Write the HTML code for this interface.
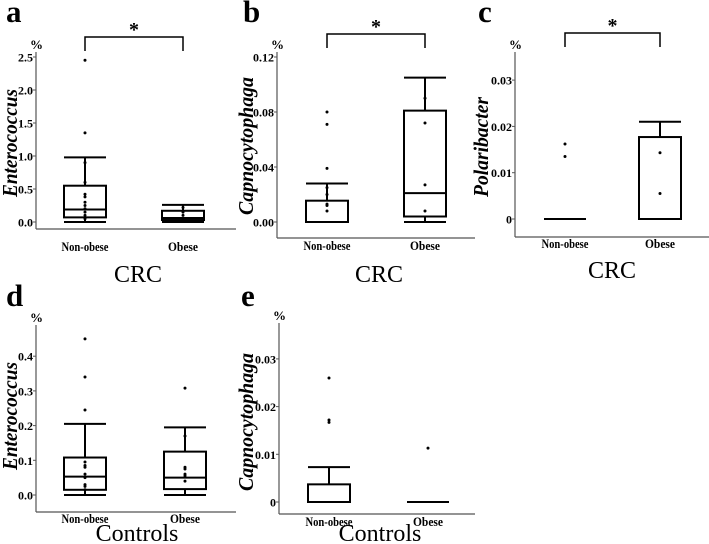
<!DOCTYPE html>
<html><head><meta charset="utf-8"><style>
html,body{margin:0;padding:0;background:#fff;}
svg{display:block;font-family:"Liberation Serif",serif;}
</style></head><body>
<svg id="fig" width="709" height="544" viewBox="0 0 709 544" xmlns="http://www.w3.org/2000/svg"></svg>
<script>
// ---- data (values in %) ----
const groups = ["Non-obese", "Obese"];
// panel a: CRC Enterococcus
const aStats = [[0, 0.07, 0.19, 0.55, 0.98], [0, 0.03, 0.06, 0.17, 0.26]];
const aPoints = [[2.45, 1.35, 0.9, 0.6, 0.42, 0.38, 0.3, 0.25, 0.2, 0.15, 0.1, 0.05], [0.22, 0.15, 0.1, 0.05]];
const aTicks = ["0.0", "0.5", "1.0", "1.5", "2.0", "2.5"];
// panel b: CRC Capnocytophaga
const bStats = [[0, 0, 0, 0.0155, 0.028], [0, 0.004, 0.021, 0.081, 0.105]];
const bPoints = [[0.08, 0.071, 0.039, 0.025, 0.02, 0.013, 0.012, 0.008], [0.09, 0.072, 0.027, 0.008]];
const bTicks = ["0.00", "0.04", "0.08", "0.12"];
// panel c: CRC Polaribacter
const cStats = [[0, 0, 0, 0, 0], [0, 0, 0, 0.0177, 0.021]];
const cPoints = [[0.0162, 0.0135], [0.0143, 0.0055]];
const cTicks = ["0", "0.01", "0.02", "0.03"];
// panel d: Controls Enterococcus
const dStats = [[0, 0.015, 0.053, 0.108, 0.205], [0, 0.017, 0.05, 0.125, 0.195]];
const dPoints = [[0.45, 0.34, 0.245, 0.095, 0.085, 0.08, 0.06, 0.05, 0.03, 0.025, 0.015], [0.308, 0.17, 0.08, 0.075, 0.06, 0.055, 0.04]];
const dTicks = ["0.0", "0.1", "0.2", "0.3", "0.4"];
// panel e: Controls Capnocytophaga
const eStats = [[0, 0, 0, 0.0037, 0.0073], [0, 0, 0, 0, 0]];
const ePoints = [[0.026, 0.0172, 0.0167], [0.0113]];
const eTicks = ["0", "0.01", "0.02", "0.03"];

const NS = "http://www.w3.org/2000/svg";
const svg = document.getElementById("fig");
function mk(tag, attrs, parent) {
  const e = document.createElementNS(NS, tag);
  for (const k in attrs) e.setAttribute(k, attrs[k]);
  (parent || svg).appendChild(e);
  return e;
}

const panels = [
  {id:"a", stats:aStats, pts:aPoints, ticks:aTicks, step:0.5, ax:36, y0:222, pxPer:66, top:52, bottom:229, right:236, cx:[85,183], bw:42, title:"Enterococcus", tx:12, ty:143, tl:108, xlab:"CRC", xlx:138, xly:282, lab:"a", lx:6, ly:22, star:true, bTop:37, labY:251},
  {id:"b", stats:bStats, pts:bPoints, ticks:bTicks, step:0.04, ax:277, y0:222, pxPer:1375, top:52, bottom:238, right:475, cx:[327,425], bw:42, title:"Capnocytophaga", tx:248, ty:146, tl:138, xlab:"CRC", xlx:379, xly:282, lab:"b", lx:243, ly:22, star:true, bTop:34, labY:250},
  {id:"c", stats:cStats, pts:cPoints, ticks:cTicks, step:0.01, ax:515, y0:219, pxPer:4630, top:52, bottom:237, right:709, cx:[565,660], bw:42, title:"Polaribacter", tx:483, ty:147, tl:100, xlab:"CRC", xlx:612, xly:278, lab:"c", lx:478, ly:22, star:true, bTop:33, labY:248},
  {id:"d", stats:dStats, pts:dPoints, ticks:dTicks, step:0.1, ax:36, y0:495, pxPer:347, top:325, bottom:512, right:236, cx:[85,185], bw:42, title:"Enterococcus", tx:12, ty:416, tl:108, xlab:"Controls", xlx:137, xly:541, lab:"d", lx:6, ly:306, star:false, labY:523},
  {id:"e", stats:eStats, pts:ePoints, ticks:eTicks, step:0.01, ax:279, y0:502, pxPer:4770, top:323, bottom:514, right:475, cx:[329,428], bw:42, title:"Capnocytophaga", tx:248, ty:422, tl:138, xlab:"Controls", xlx:380, xly:541, lab:"e", lx:241, ly:306, star:false, labY:526}
];

panels.forEach(p => {
  const g = mk("g", {});
  
  
  const y = v => p.y0 - v * p.pxPer;
  const L = mk("text", {x:p.lx, y:p.ly, "font-size":31, "font-weight":"bold"}, g);
  L.textContent = p.lab;
  
  
  const ya = mk("line", {x1:p.ax, y1:p.top, x2:p.ax, y2:p.bottom, stroke:"#555", "stroke-width":1.2}, g);
  
  
  const xa = mk("line", {x1:p.ax, y1:p.bottom, x2:p.right, y2:p.bottom, stroke:"#555", "stroke-width":1.2}, g);
  
  
  const pc = mk("text", {x:p.ax - 6, y:p.top - 3, "font-size":13, "font-weight":"bold"}, g);
  pc.textContent = "%";
  
  
  p.ticks.forEach((t, i) => {
    const ty = y(i * p.step);
    mk("line", {x1:p.ax - 3, y1:ty, x2:p.ax, y2:ty, stroke:"#555", "stroke-width":1}, g);
    const tt = mk("text", {x:p.ax - 3, y:ty + 4.5, "font-size":12, "font-weight":"bold", "text-anchor":"end"}, g);
    tt.textContent = t;
    
    
  });
  const yt = mk("text", {x:0, y:0, "font-size":21, "font-weight":"bold", "font-style":"italic", "text-anchor":"middle", transform:`translate(${p.tx + 5},${p.ty}) rotate(-90)`, textLength:p.tl, lengthAdjust:"spacingAndGlyphs"}, g);
  yt.textContent = p.title;
  
  
  groups.forEach((gn, i) => {
    const xl = mk("text", {x:p.cx[i], y:p.labY, "font-size":12.5, "font-weight":"bold", "text-anchor":"middle", textLength: i === 0 ? 47 : 30, lengthAdjust:"spacingAndGlyphs"}, g);
    xl.textContent = gn;
    
    
  });
  const xt = mk("text", {x:p.xlx, y:p.xly, "font-size":24, "text-anchor":"middle"}, g);
  xt.textContent = p.xlab;
  
  
  p.stats.forEach((s, i) => {
    const cx = p.cx[i], hw = p.bw / 2;
    const bg = mk("g", {stroke:"#000", "stroke-width":2, fill:"none"}, g);
    
    
    if (s[4] > s[3]) mk("line", {x1:cx, y1:y(s[3]), x2:cx, y2:y(s[4])}, bg);
    if (s[1] > s[0]) mk("line", {x1:cx, y1:y(s[0]), x2:cx, y2:y(s[1])}, bg);
    mk("line", {x1:cx - hw, y1:y(s[4]), x2:cx + hw, y2:y(s[4])}, bg);
    mk("line", {x1:cx - hw, y1:y(s[0]), x2:cx + hw, y2:y(s[0])}, bg);
    if (s[3] > s[1]) mk("rect", {x:cx - hw, y:y(s[3]), width:p.bw, height:y(s[1]) - y(s[3])}, bg);
    mk("line", {x1:cx - hw, y1:y(s[2]), x2:cx + hw, y2:y(s[2])}, bg);
    p.pts[i].forEach(v => {
      const c = mk("circle", {cx:cx, cy:y(v), r:1.5, fill:"#000", stroke:"none"}, g);
      
      
    });
  });
  if (p.star) {
    const br = mk("path", {d:`M${p.cx[0]},${p.bTop + 14} V${p.bTop} H${p.cx[1]} V${p.bTop + 14}`, stroke:"#000", "stroke-width":1.5, fill:"none"}, g);
    
    
    const st = mk("text", {x:(p.cx[0] + p.cx[1]) / 2, y:p.bTop - 1, "font-size":20, "font-weight":"bold", "text-anchor":"middle"}, g);
    st.textContent = "*";
    
    
  }
});
</script>
</body></html>
